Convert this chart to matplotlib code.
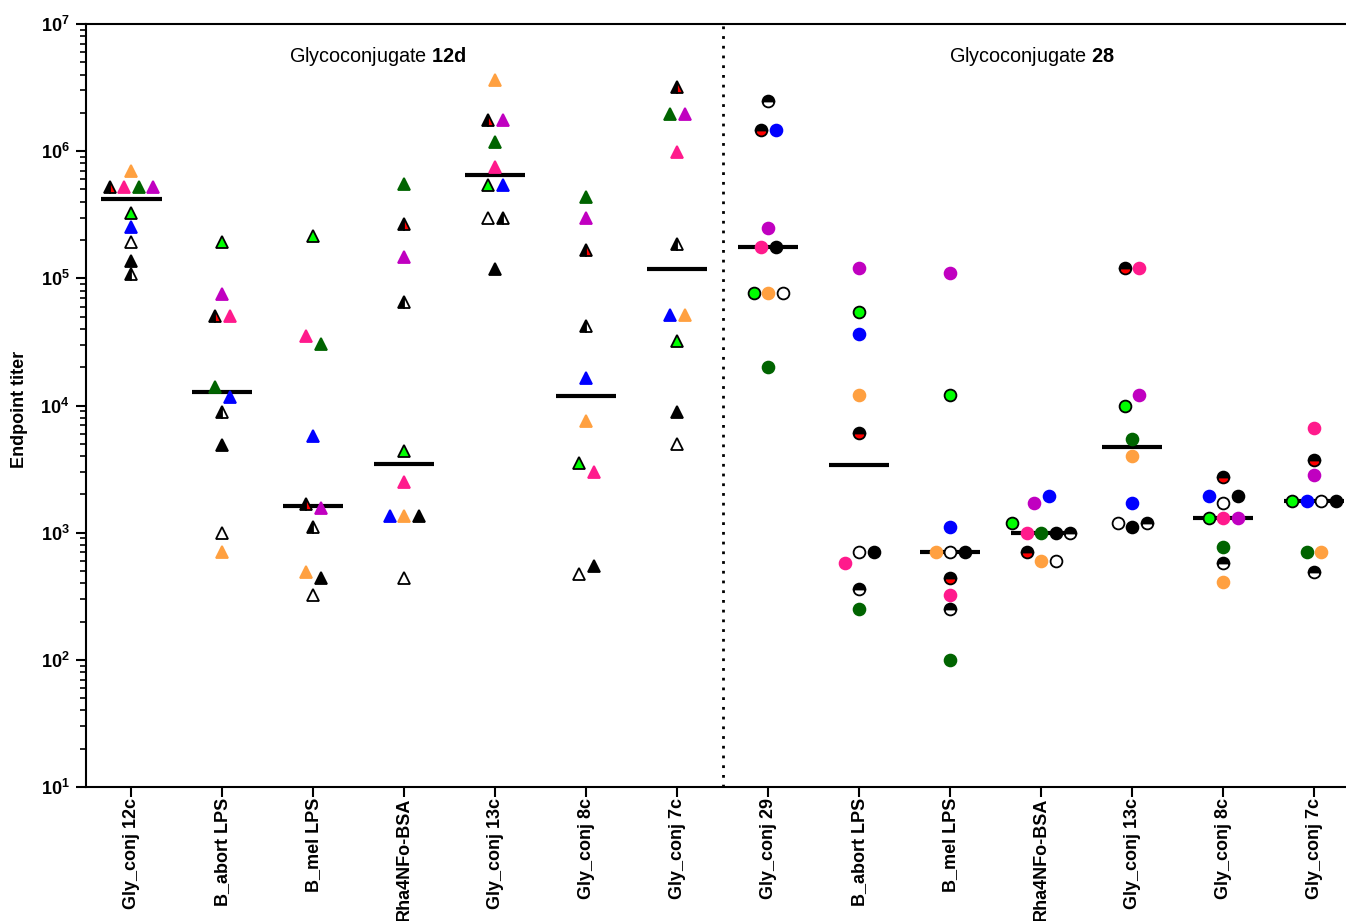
import numpy as np
import matplotlib
matplotlib.use("Agg")
import matplotlib.pyplot as plt
from matplotlib.ticker import LogLocator, FixedLocator, FixedFormatter, NullFormatter

plt.rcParams['font.family'] = ['Liberation Sans', 'DejaVu Sans']
plt.rcParams['mathtext.fontset'] = 'custom'
plt.rcParams['mathtext.rm'] = 'Liberation Sans'
plt.rcParams['mathtext.bf'] = 'Liberation Sans:bold'

# coating antigens (x categories); first 7 = glycoconjugate 12d sera, last 7 = glycoconjugate 28 sera
antigens = ["Gly_conj 12c", "B_abort LPS", "B_mel LPS", "Rha4NFo-BSA", "Gly_conj 13c",
            "Gly_conj 8c", "Gly_conj 7c", "Gly_conj 29", "B_abort LPS", "B_mel LPS",
            "Rha4NFo-BSA", "Gly_conj 13c", "Gly_conj 8c", "Gly_conj 7c"]
n_left = 7
panel_titles = ["Glycoconjugate $\\mathbf{12d}$", "Glycoconjugate $\\mathbf{28}$"]

# endpoint titers, one list per mouse (one value per antigen)
m_dkgreen = [5.2e5, 1.4e4, 3.05e4, 5.5e5, 1.18e6, 4.4e5, 1.96e6, 2.0e4, 250, 100, 1000, 5.5e3, 770, 700]
m_magenta = [5.2e5, 7.5e4, 1.56e3, 1.47e5, 1.76e6, 3.0e5, 1.96e6, 2.5e5, 1.2e5, 1.1e5, 1.7e3, 1.2e4, 1.3e3, 2.85e3]
m_pink = [5.2e5, 5.1e4, 3.5e4, 2.5e3, 7.5e5, 3.0e3, 9.8e5, 1.76e5, 580, 325, 1000, 1.2e5, 1.3e3, 6.6e3]
m_blackred = [5.2e5, 5.1e4, 1.68e3, 2.67e5, 1.76e6, 1.67e5, 3.2e6, 1.47e6, 6.1e3, 440, 700, 1.2e5, 2.75e3, 3.7e3]
m_orange = [7.0e5, 700, 490, 1.35e3, 3.6e6, 7.5e3, 5.15e4, 7.7e4, 1.2e4, 700, 600, 4.0e3, 410, 700]
m_green = [3.27e5, 1.93e5, 2.15e5, 4.4e3, 5.4e5, 3.5e3, 3.2e4, 7.7e4, 5.4e4, 1.2e4, 1.2e3, 1.0e4, 1.3e3, 1.78e3]
m_blue = [2.53e5, 1.17e4, 5.75e3, 1.35e3, 5.4e5, 1.64e4, 5.15e4, 1.47e6, 3.65e4, 1.1e3, 1.95e3, 1.7e3, 1.95e3, 1.78e3]
m_open = [1.93e5, 1.0e3, 325, 440, 3.0e5, 475, 5.0e3, 7.7e4, 700, 700, 600, 1.2e3, 1.7e3, 1.78e3]
m_black = [1.37e5, 4.9e3, 440, 1.35e3, 1.18e5, 550, 8.9e3, 1.76e5, 700, 700, 1.0e3, 1.1e3, 1.95e3, 1.78e3]
m_halfwhite = [1.08e5, 8.9e3, 1.1e3, 6.5e4, 3.0e5, 4.2e4, 1.86e5, 2.48e6, 360, 250, 1.0e3, 1.2e3, 580, 490]

# left-to-right order of mice when points share a row
mice = ["blackred", "green", "pink", "dkgreen", "magenta", "blue", "orange", "open", "black", "halfwhite"]
series = {"blackred": m_blackred, "green": m_green, "pink": m_pink, "dkgreen": m_dkgreen,
          "magenta": m_magenta, "blue": m_blue, "orange": m_orange, "open": m_open,
          "black": m_black, "halfwhite": m_halfwhite}

styles = {
    "dkgreen": dict(mfc="#006400", mec="#006400"),
    "magenta": dict(mfc="#C000C0", mec="#C000C0"),
    "pink": dict(mfc="#FF1A8C", mec="#FF1A8C"),
    "orange": dict(mfc="#FFA040", mec="#FFA040"),
    "blue": dict(mfc="#0000FF", mec="#0000FF"),
    "green": dict(mfc="#00FF00", mec="black"),
    "black": dict(mfc="black", mec="black"),
    "open": dict(mfc="white", mec="black"),
    "halfwhite": dict(mfc="black", mec="black", mfcalt="white", half=True),
    "blackred": dict(mfc="black", mec="black", mfcalt="red", half=True),
}


def spread(vals, tol=0.10, step=0.16):
    """horizontal offsets for points that sit on (nearly) the same row"""
    logv = np.log10(vals)
    idx = sorted(range(len(vals)), key=lambda i: (-logv[i], i))
    clusters = []
    for i in idx:
        if clusters and logv[clusters[-1][0]] - logv[i] < tol:
            clusters[-1].append(i)
        else:
            clusters.append([i])
    offs = np.zeros(len(vals))
    for c in clusters:
        c = sorted(c)
        n = len(c)
        for k, i in enumerate(c):
            offs[i] = (k - (n - 1) / 2) * step
    return offs


fig = plt.figure(figsize=(13.46, 9.21), dpi=100)
ax = fig.add_axes([86 / 1346, 1 - 787 / 921, 1 - 86 / 1346, (787 - 24) / 921])

n_groups = len(antigens)
offsets = np.zeros((len(mice), n_groups))
for g in range(n_groups):
    vals = [series[m][g] for m in mice]
    offsets[:, g] = spread(vals)
    ax.hlines(np.median(vals), g - 0.33, g + 0.33, color="black", lw=3, zorder=2)

for j, m in enumerate(mice):
    st = styles[m]
    y = np.array(series[m])
    x = np.arange(n_groups) + offsets[j]
    for part, marker, half in [(slice(0, n_left), "^", "left"), (slice(n_left, None), "o", "top")]:
        kw = dict(ls="none", marker=marker, ms=9 if marker == "^" else 8.5, mew=1.3,
                  mfc=st["mfc"], mec=st["mec"], zorder=3)
        if st.get("half"):
            kw.update(fillstyle=half, markerfacecoloralt=st["mfcalt"])
        ax.plot(x[part], y[part], **kw)

ax.axvline(n_left - 0.5, color="black", lw=2, ls=(0, (1, 2.5)), zorder=1)

ax.set_yscale("log")
ax.set_ylim(10, 1e7)
ax.set_xlim(-0.5, 13.35)

ax.yaxis.set_major_locator(FixedLocator([10.0 ** k for k in range(1, 8)]))
ax.yaxis.set_major_formatter(FixedFormatter(["$\\mathbf{10^{%d}}$" % k for k in range(1, 8)]))
ax.yaxis.set_minor_locator(LogLocator(base=10, subs=np.arange(2, 10), numticks=20))
ax.yaxis.set_minor_formatter(NullFormatter())
ax.tick_params(axis="y", which="major", length=7, width=1.5, labelsize=13, pad=5)
ax.tick_params(axis="y", which="minor", length=4, width=1.2)

ax.set_xticks(np.arange(n_groups))
ax.set_xticklabels(antigens, rotation=90, fontsize=13, fontweight="bold", va="top")
ax.tick_params(axis="x", length=7, width=1.5, pad=1)

for side in ["left", "bottom", "top"]:
    ax.spines[side].set_linewidth(1.5)
ax.spines["right"].set_visible(False)

ax.text(2.71, 0.957, panel_titles[0], transform=ax.get_xaxis_transform(),
        ha="center", va="center", fontsize=14.3)
ax.text(9.9, 0.957, panel_titles[1], transform=ax.get_xaxis_transform(),
        ha="center", va="center", fontsize=14.3)

fig.text(20 / 1346, 1 - 409 / 921, "Endpoint titer", rotation=90, ha="center", va="center",
         fontsize=13, fontweight="bold")

fig.savefig("out.png", dpi=100)
